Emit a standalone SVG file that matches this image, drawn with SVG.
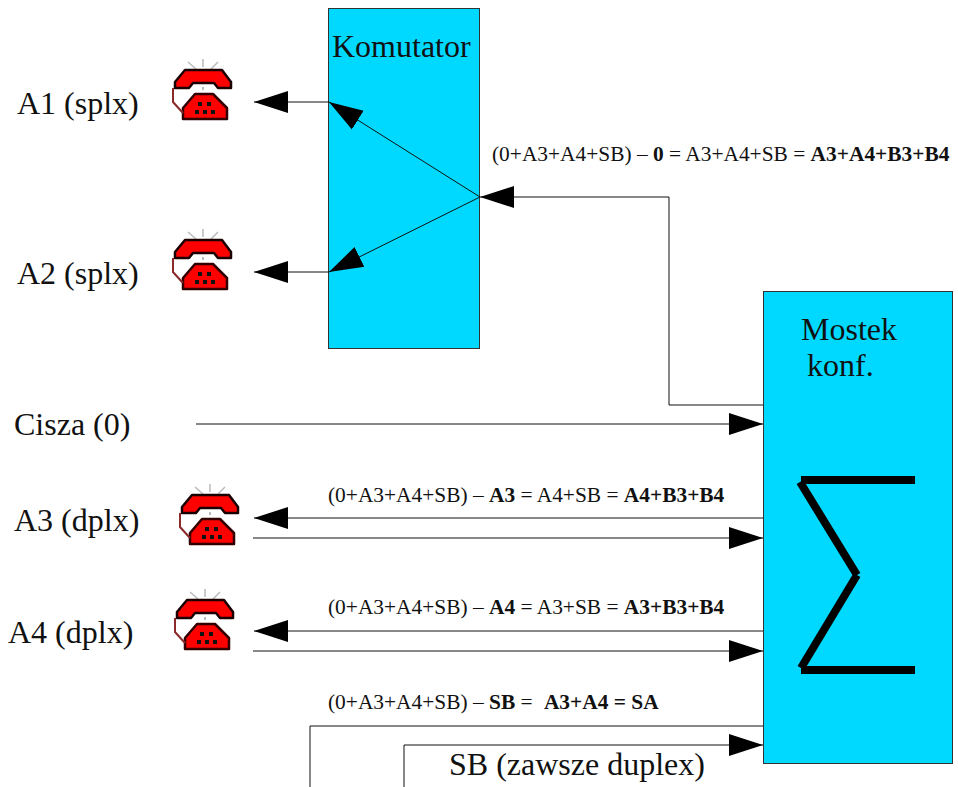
<svg xmlns="http://www.w3.org/2000/svg" width="958" height="787" viewBox="0 0 958 787">
<style>
text{font-family:"Liberation Serif","Times New Roman",serif;fill:#111}
.big{font-size:32px}
.eq{font-size:21.400px}
.eq tspan{font-weight:bold}
.box{fill:#00d9ff;stroke:#333;stroke-width:1}
.ln{fill:none;stroke:#111;stroke-width:1}
.sig{fill:none;stroke:#000;stroke-width:8}
</style>
<defs>
<marker id="arr" markerUnits="userSpaceOnUse" markerWidth="34" markerHeight="24" refX="34" refY="12" orient="auto">
<path d="M0 1L34 12L0 23Z" fill="#000"/>
</marker>
<g id="phone">
<path d="M188 62L196 69M203 59V67M218 62L211 69" fill="none" stroke="#bbb" stroke-width="1.500"/>
<path d="M175 82L185 70H222L231 82V88H218L214 83H193L189 88H175Z" fill="#f00" stroke="#1a0000" stroke-width="2.500" stroke-linejoin="round"/>
<path d="M203 87v3" stroke="#bbb" stroke-width="2"/>
<path d="M183 119V108L195 94H213L227 108V119Z" fill="#f00" stroke="#300" stroke-width="2.500" stroke-linejoin="round"/>
<path d="M198 102h4v4h-4zM207 102h4v4h-4zM195 110h4v4h-4zM203 110h4v4h-4zM211 110h4v4h-4z" fill="#111"/>
<path d="M173 88V102L183 113" fill="none" stroke="#8a2a2a" stroke-width="2"/>
</g>
</defs>
<g id="komutator"><rect class="box" x="328.500" y="8.500" width="151" height="340"/><text class="big" x="332" y="57">Komutator</text></g>
<g id="mostek"><rect class="box" x="763.500" y="291.500" width="189" height="472"/><text class="big" x="801" y="340">Mostek</text><text class="big" x="807" y="376">konf.</text>
<g id="sigma"><path class="sig" d="M801 480H915M801 670H915M800 482L857 575M857 575L801 668"/></g></g>
<g id="connectors">
<path class="ln" d="M329 102H254" marker-end="url(#arr)"/>
<path class="ln" d="M329 272H254" marker-end="url(#arr)"/>
<path class="ln" d="M480 197L329 102" marker-end="url(#arr)"/>
<path class="ln" d="M480 197L329 272" marker-end="url(#arr)"/>
<path class="ln" d="M763 405H669V197H480" marker-end="url(#arr)"/>
<path class="ln" d="M196 424H763" marker-end="url(#arr)"/>
<path class="ln" d="M763 518H254" marker-end="url(#arr)"/>
<path class="ln" d="M253 538H763" marker-end="url(#arr)"/>
<path class="ln" d="M763 631H254" marker-end="url(#arr)"/>
<path class="ln" d="M253 651H763" marker-end="url(#arr)"/>
<path class="ln" d="M763 726H310V787"/>
<path class="ln" d="M404 787V745H763" marker-end="url(#arr)"/>
</g>
<g id="a1"><use href="#phone"/><text class="big" x="17" y="114">A1 (splx)</text></g>
<g id="a2"><use href="#phone" y="170"/><text class="big" x="17" y="284">A2 (splx)</text></g>
<g id="cisza"><text class="big" x="14" y="435">Cisza (0)</text></g>
<g id="a3"><use href="#phone" x="7" y="425"/><text class="big" x="14" y="531">A3 (dplx)</text></g>
<g id="a4"><use href="#phone" x="2" y="530"/><text class="big" x="8" y="643">A4 (dplx)</text></g>
<g id="labels">
<text class="eq" x="492" y="161">(0+A3+A4+SB) – <tspan>0</tspan> = A3+A4+SB = <tspan>A3+A4+B3+B4</tspan></text>
<text class="eq" x="328" y="502">(0+A3+A4+SB) – <tspan>A3</tspan> = A4+SB = <tspan>A4+B3+B4</tspan></text>
<text class="eq" x="328" y="614">(0+A3+A4+SB) – <tspan>A4</tspan> = A3+SB = <tspan>A3+B3+B4</tspan></text>
<text class="eq" x="328" y="709">(0+A3+A4+SB) – <tspan>SB</tspan> = <tspan dx="6">A3+A4 = SA</tspan></text>
<text class="big" x="449" y="775">SB (zawsze duplex)</text>
</g>
</svg>
